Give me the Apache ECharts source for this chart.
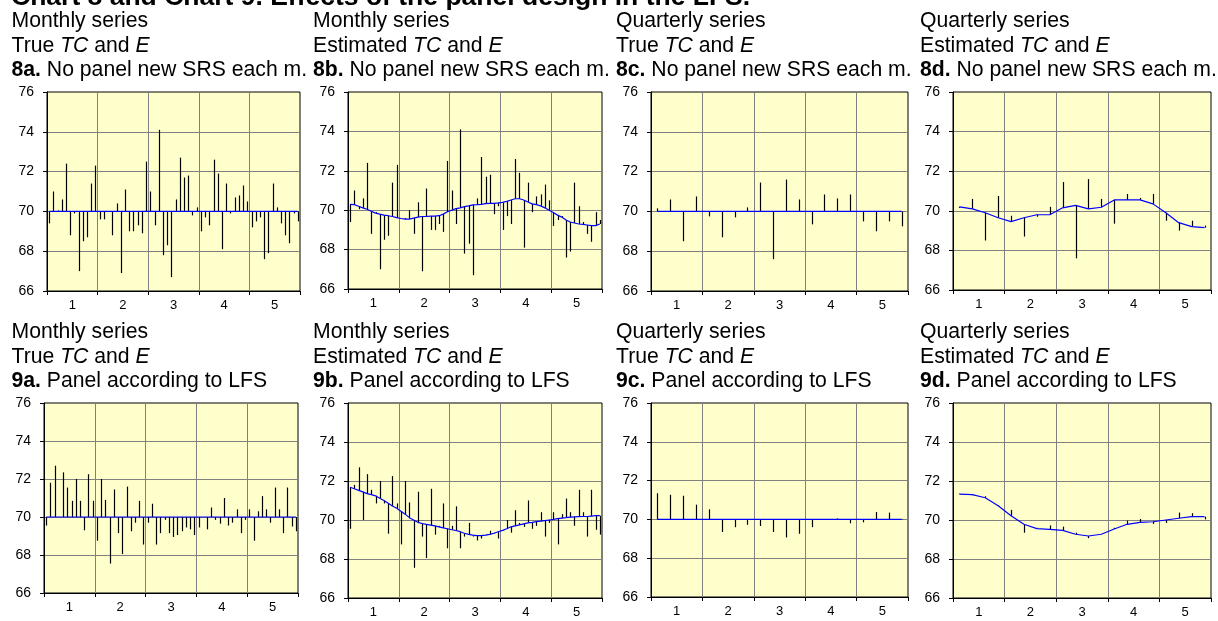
<!DOCTYPE html>
<html>
<head>
<meta charset="utf-8">
<title>Chart 8 and Chart 9</title>
<script src="https://cdn.jsdelivr.net/npm/echarts@6/dist/echarts.min.js"></script>
<style>
  html, body { margin: 0; padding: 0; background: #fff; }
  #chart { width: 1218px; height: 621px; }
</style>
</head>
<body>
<div id="chart"></div>
<script>
// x axis labels (years)
var yearLabels = ["1", "2", "3", "4", "5"];

// true trend (TC) is flat
var trueTcM = [
  70, 70, 70, 70, 70, 70, 70, 70, 70, 70, 70, 70,
  70, 70, 70, 70, 70, 70, 70, 70, 70, 70, 70, 70,
  70, 70, 70, 70, 70, 70, 70, 70, 70, 70, 70, 70,
  70, 70, 70, 70, 70, 70, 70, 70, 70, 70, 70, 70,
  70, 70, 70, 70, 70, 70, 70, 70, 70, 70, 70, 70
];
var trueTcQ = [70, 70, 70, 70, 70, 70, 70, 70, 70, 70, 70, 70, 70, 70, 70, 70, 70, 70, 70, 70];

// chart 8: no panel, new SRS each month
var obs8M = [
  69.4, 71.0, 70.05, 70.6, 72.4, 68.8, 69.9, 67.0, 68.5, 68.7, 71.4, 72.3,
  69.6, 69.6, 70.0, 68.8, 70.4, 66.9, 71.1, 69.0, 69.0, 69.3, 68.9, 72.5,
  71.0, 69.3, 74.1, 67.8, 68.3, 66.7, 70.6, 72.7, 71.7, 71.8, 69.8, 70.2,
  69.0, 69.7, 69.3, 72.6, 71.9, 68.1, 71.4, 69.9, 70.7, 70.8, 71.3, 70.5,
  69.2, 69.5, 69.7, 67.6, 67.9, 71.4, 70.2, 69.4, 68.8, 68.4, 69.9, 69.5
];
var est8M = [
  70.30, 70.28, 70.20, 70.12, 70.05, 69.95, 69.85, 69.80, 69.75, 69.72, 69.68, 69.62,
  69.58, 69.55, 69.55, 69.60, 69.65, 69.68, 69.68, 69.70, 69.70, 69.72, 69.80, 69.92,
  70.00, 70.08, 70.12, 70.18, 70.22, 70.27, 70.28, 70.30, 70.33, 70.35, 70.35, 70.37,
  70.40, 70.45, 70.52, 70.58, 70.58, 70.52, 70.42, 70.32, 70.28, 70.22, 70.12, 70.00,
  69.88, 69.75, 69.65, 69.50, 69.40, 69.35, 69.30, 69.28, 69.25, 69.22, 69.22, 69.30
];
var obs8Q = [70.15, 70.6, 68.5, 70.75, 69.75, 68.7, 69.7, 70.2, 71.45, 67.6,
             71.6, 70.6, 69.35, 70.85, 70.65, 70.85, 69.5, 69.0, 69.5, 69.25];
var est8Q = [70.2, 70.1, 69.9, 69.65, 69.45, 69.65, 69.8, 69.8, 70.15, 70.27,
             70.1, 70.18, 70.55, 70.55, 70.55, 70.35, 69.9, 69.4, 69.2, 69.15];

// chart 9: panel according to LFS
var obs9M = [
  69.55, 71.8, 72.7, 70.0, 72.35, 71.55, 70.85, 72.0, 70.85, 69.3, 72.25, 70.85,
  68.75, 72.0, 70.9, 67.55, 71.45, 69.15, 68.05, 71.6, 69.25, 69.7, 70.85, 68.55,
  69.7, 70.7, 68.55, 69.15, 69.85, 69.15, 68.95, 69.05, 69.25, 69.45, 69.35, 69.05,
  69.45, 70.0, 69.35, 70.5, 69.85, 69.65, 71.0, 69.55, 69.7, 70.4, 69.15, 69.85,
  70.4, 68.75, 70.3, 71.1, 70.4, 69.7, 71.55, 70.4, 69.15, 71.55, 69.5, 69.25
];
var est9M = [
  71.68, 71.60, 71.52, 71.44, 71.35, 71.30, 71.24, 71.12, 71.00, 70.86, 70.72, 70.60,
  70.45, 70.30, 70.12, 70.00, 69.88, 69.82, 69.78, 69.74, 69.70, 69.65, 69.60, 69.55,
  69.50, 69.46, 69.40, 69.32, 69.26, 69.22, 69.20, 69.20, 69.22, 69.26, 69.32, 69.40,
  69.47, 69.55, 69.65, 69.70, 69.75, 69.80, 69.85, 69.88, 69.92, 69.94, 69.97, 70.00,
  70.03, 70.07, 70.10, 70.12, 70.15, 70.16, 70.17, 70.18, 70.18, 70.20, 70.22, 70.22
];
var obs9Q = [71.35, 71.27, 71.22, 70.76, 70.52, 69.35, 69.6, 69.72, 69.66, 69.35,
             69.07, 69.26, 69.6, 69.97, 70.05, 69.8, 69.85, 70.38, 70.35, 70.03];
var est9Q = [71.33, 71.3, 71.14, 70.73, 70.22, 69.78, 69.56, 69.52, 69.47, 69.27,
             69.18, 69.27, 69.54, 69.78, 69.88, 69.91, 70.0, 70.09, 70.17, 70.17];

var FONT = '"Liberation Sans", Arial, Helvetica, sans-serif';
var GRIDLINE = "#808080";

// layout of the 8 small charts
var panels = [
  { id: "8a", kind: "Monthly", tc: "True", note: "No panel new SRS each m.", obs: obs8M, trend: trueTcM,
    grid: { left: 47, top: 92, width: 253, height: 199 }, textLeft: 11.5, textTop: 9 },
  { id: "8b", kind: "Monthly", tc: "Estimated", note: "No panel new SRS each m.", obs: obs8M, trend: est8M,
    grid: { left: 348, top: 92, width: 254, height: 197 }, textLeft: 313, textTop: 9 },
  { id: "8c", kind: "Quarterly", tc: "True", note: "No panel new SRS each m.", obs: obs8Q, trend: trueTcQ,
    grid: { left: 651, top: 92, width: 257, height: 199 }, textLeft: 616, textTop: 9 },
  { id: "8d", kind: "Quarterly", tc: "Estimated", note: "No panel new SRS each m.", obs: obs8Q, trend: est8Q,
    grid: { left: 953, top: 92, width: 258, height: 198 }, textLeft: 920, textTop: 9 },
  { id: "9a", kind: "Monthly", tc: "True", note: "Panel according to LFS", obs: obs9M, trend: trueTcM,
    grid: { left: 44, top: 403, width: 254, height: 190 }, textLeft: 11.5, textTop: 320 },
  { id: "9b", kind: "Monthly", tc: "Estimated", note: "Panel according to LFS", obs: obs9M, trend: est9M,
    grid: { left: 348, top: 403, width: 254, height: 195 }, textLeft: 313, textTop: 320 },
  { id: "9c", kind: "Quarterly", tc: "True", note: "Panel according to LFS", obs: obs9Q, trend: trueTcQ,
    grid: { left: 651, top: 403, width: 257, height: 194 }, textLeft: 616, textTop: 320 },
  { id: "9d", kind: "Quarterly", tc: "Estimated", note: "Panel according to LFS", obs: obs9Q, trend: est9Q,
    grid: { left: 953, top: 403, width: 258, height: 195 }, textLeft: 920, textTop: 320 }
];

// vertical line from trend to observed value
function renderSpike(params, api) {
  var a = api.coord([api.value(0), api.value(1)]);
  var b = api.coord([api.value(0), api.value(2)]);
  var x = Math.round(a[0]) + 0.5;
  return {
    type: "line",
    shape: { x1: x, y1: a[1], x2: x, y2: b[1] },
    style: { stroke: "#000", lineWidth: 1.2 }
  };
}

var titles = [{
  text: "Chart 8 and Chart 9. Effects of the panel design in the LFS.",
  left: 11, top: -17, padding: 0,
  textStyle: { fontSize: 26.5, fontWeight: "bold", fontFamily: FONT, color: "#000", lineHeight: 30 }
}];
var grids = [], xAxes = [], yAxes = [], series = [];

panels.forEach(function (p, k) {
  var n = p.obs.length;
  var perYear = n / 5;
  var cats = p.obs.map(function (v, i) { return String(i + 1); });

  titles.push({
    text: p.kind + " series\n" + p.tc + " {i|TC} and {i|E}\n{b|" + p.id + ".} " + p.note,
    left: p.textLeft, top: p.textTop, padding: 0,
    textStyle: {
      fontSize: 21.2, fontWeight: "normal", fontFamily: FONT, color: "#000", lineHeight: 24.5,
      rich: {
        i: { fontSize: 21.2, fontStyle: "italic", fontFamily: FONT, color: "#000", lineHeight: 24.5 },
        b: { fontSize: 21.2, fontWeight: "bold", fontFamily: FONT, color: "#000", lineHeight: 24.5 }
      }
    }
  });

  grids.push({
    left: p.grid.left, top: p.grid.top, width: p.grid.width, height: p.grid.height,
    show: true, backgroundColor: "#FFFFCC", borderColor: "#000", borderWidth: 1,
    outerBoundsMode: "none"
  });

  // months / quarters
  xAxes.push({
    type: "category", gridIndex: k, data: cats, boundaryGap: true, position: "bottom",
    axisLine: { show: true, lineStyle: { color: "#000", width: 1 } },
    axisTick: { show: true, interval: perYear - 1, length: 4, inside: false, lineStyle: { color: "#000" } },
    axisLabel: { show: false },
    splitLine: { show: true, interval: perYear - 1, showMinLine: false, showMaxLine: false,
                 lineStyle: { color: GRIDLINE, width: 1 } }
  });
  // year labels
  xAxes.push({
    type: "category", gridIndex: k, data: yearLabels, boundaryGap: true, position: "bottom", offset: 0,
    axisLine: { show: false }, axisTick: { show: false }, splitLine: { show: false },
    axisLabel: { show: true, fontSize: 13, fontFamily: FONT, color: "#000", margin: 8 }
  });

  yAxes.push({
    type: "value", gridIndex: k, min: 66, max: 76, interval: 2,
    axisLine: { show: true, lineStyle: { color: "#000", width: 1 } },
    axisTick: { show: true, length: 4, inside: false, lineStyle: { color: "#000" } },
    axisLabel: { fontSize: 14, fontFamily: FONT, color: "#000", margin: 13 },
    splitLine: { show: true, showMinLine: false, showMaxLine: false,
                 lineStyle: { color: GRIDLINE, width: 1 } }
  });

  series.push({
    type: "custom", name: p.id + " E", xAxisIndex: 2 * k, yAxisIndex: k,
    renderItem: renderSpike, silent: true, z: 2,
    data: p.obs.map(function (v, i) { return [i, p.trend[i], v]; })
  });
  series.push({
    type: "line", name: p.id + " TC", xAxisIndex: 2 * k, yAxisIndex: k,
    data: p.trend, symbol: "none", silent: true, z: 3,
    lineStyle: { color: "#0000FF", width: 1.2 }
  });
});

var chart = echarts.init(document.getElementById("chart"));
chart.setOption({
  animation: false,
  backgroundColor: "#fff",
  title: titles,
  grid: grids,
  xAxis: xAxes,
  yAxis: yAxes,
  series: series
});
</script>
</body>
</html>
